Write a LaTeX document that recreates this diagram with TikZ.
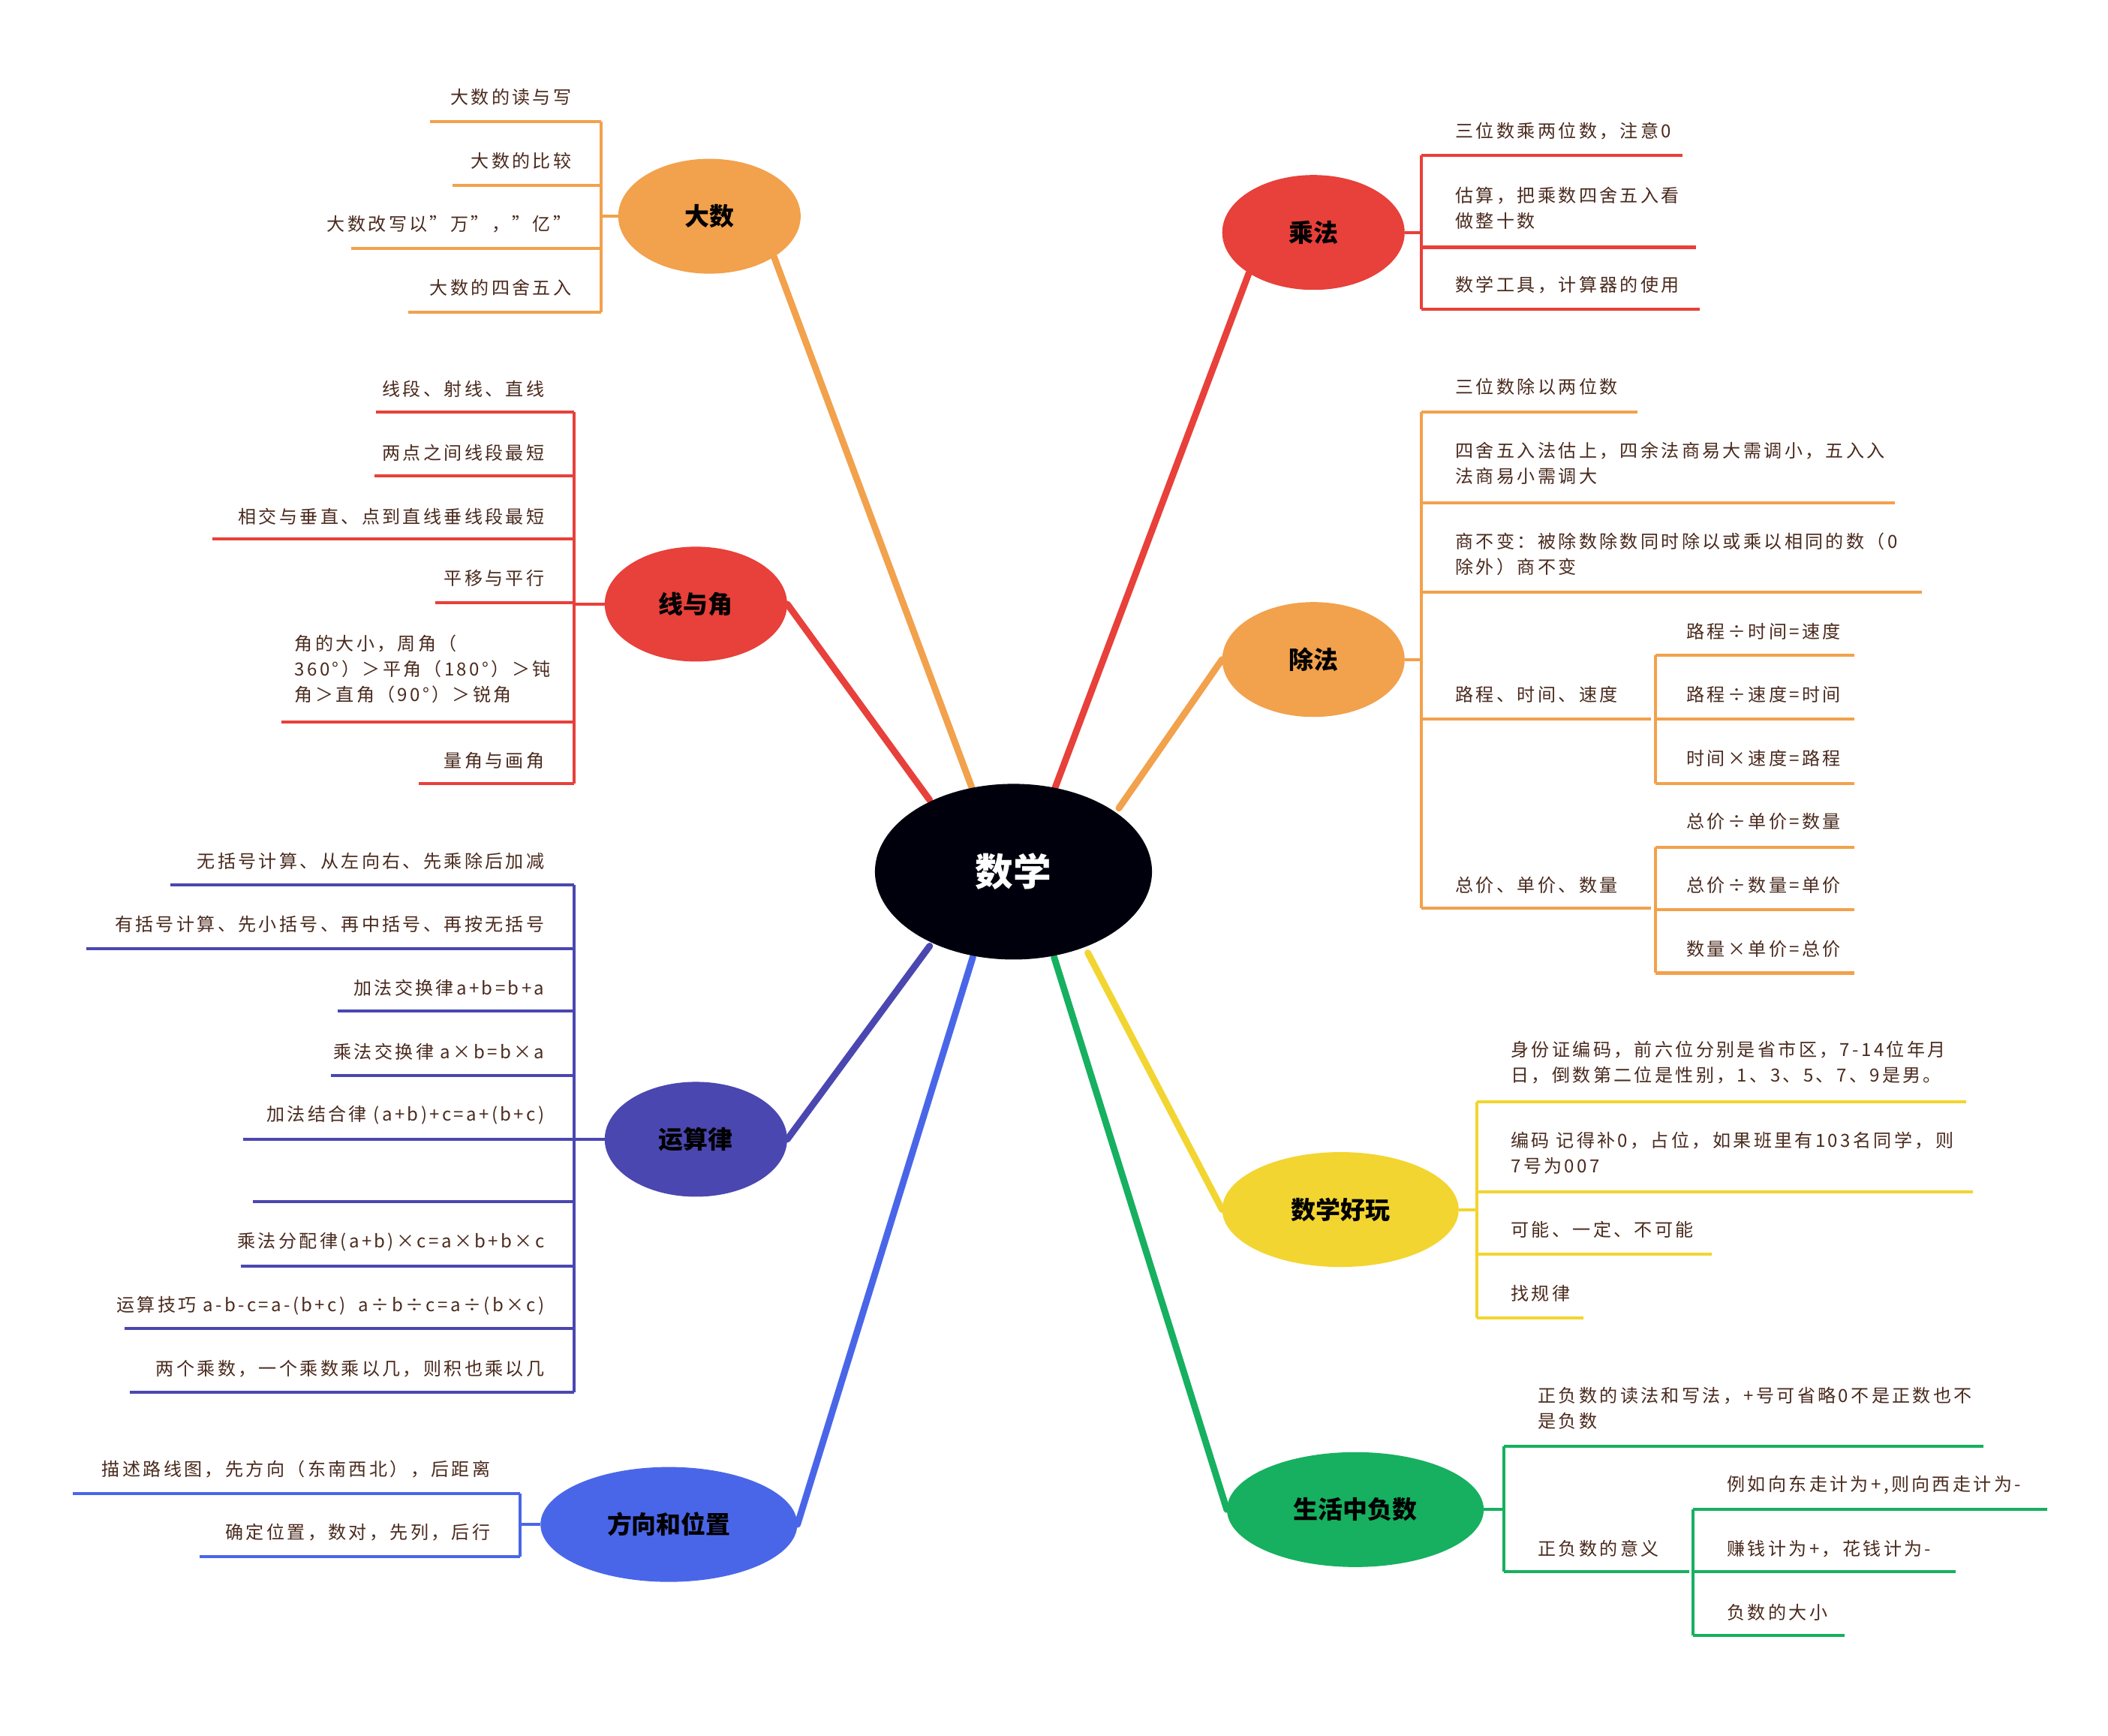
\documentclass[tikz,border=0pt]{standalone}
\usepackage{fontspec}
\setmainfont{Noto Sans CJK SC}
\usetikzlibrary{shapes.geometric}
\definecolor{cOr}{HTML}{F2A14C}
\definecolor{cRd}{HTML}{E8403A}
\definecolor{cIn}{HTML}{4B47B0}
\definecolor{cBl}{HTML}{4A66E8}
\definecolor{cYe}{HTML}{F2D530}
\definecolor{cGr}{HTML}{16B060}
\definecolor{tx}{HTML}{4A2A1E}
\tikzset{
 topic/.style={ellipse,fill=#1,minimum width=135*0.05cm,minimum height=85*0.05cm,font=\fontsize{26}{30}\selectfont\bfseries,text=black},
 mainln/.style={line width=7pt,#1,line cap=round},
 brk/.style={line width=3.2pt,#1},
 itm/.style={font=\fontsize{19}{27}\selectfont\addfontfeatures{LetterSpace=14},text=tx,align=left,inner sep=0pt},
}
% left item: color, bracketx, texty, uly, startx, name, text
\newcommand\Litem[7]{\node[itm,anchor=east,align=right] (#6) at (#2-22,#3) {#7};
 \coordinate (#6u) at (#5,#4); \draw[brk=#1] (#6u) -- (#2,#4);}
% right item: color, bracketx, textx, texty, uly, endx, name, text
\newcommand\Ritem[8]{\node[itm,anchor=west] (#7) at (#3,#4) {#8};
 \coordinate (#7u) at (#6,#5); \draw[brk=#1] (#2,#5) -- (#7u);}
\begin{document}
\begin{tikzpicture}[x=0.05cm,y=-0.05cm]
\useasboundingbox (0,0) rectangle (1560,1284);
% main connectors
\coordinate (c1) at (720,585); \coordinate (c2) at (688,592); \coordinate (c3) at (688,700);
\coordinate (c4) at (720,708); \coordinate (c5) at (780,585); \coordinate (c6) at (828,598);
\coordinate (c7) at (805,705); \coordinate (c8) at (780,708);
\node[topic=cOr] (dashu) at (525,160) {大数};
\node[topic=cRd] (xian) at (515,447) {线与角};
\node[topic=cIn] (yun) at (515,843) {运算律};
\node[topic=cBl,minimum width=190*0.05cm] (fang) at (495,1128) {方向和位置};
\node[topic=cRd] (cheng) at (972,172) {乘法};
\node[topic=cOr] (chu) at (972,488) {除法};
\node[topic=cYe,minimum width=175*0.05cm] (hao) at (992,895) {数学好玩};
\node[topic=cGr,minimum width=190*0.05cm] (fu) at (1003,1117) {生活中负数};
\draw[mainln=cOr] (c1) -- (dashu.south east);
\draw[mainln=cRd] (c2) -- (xian.east);
\draw[mainln=cIn] (c3) -- (yun.east);
\draw[mainln=cBl] (c4) -- (fang.east);
\draw[mainln=cRd] (c5) -- (cheng.south west);
\draw[mainln=cOr] (c6) -- (chu.west);
\draw[mainln=cYe] (c7) -- (hao.west);
\draw[mainln=cGr] (c8) -- (fu.west);
\node[ellipse,fill=black!95!blue,minimum width=205*0.05cm,minimum height=130*0.05cm,text=white,font=\fontsize{40}{44}\selectfont\bfseries] (root) at (750,645) {数学};
% 大数
\draw[brk=cOr] (445,90) -- (445,231); \draw[brk=cOr] (dashu.west) -- (445,160);
\Litem{cOr}{445}{72}{90}{318}{a1}{大数的读与写}
\Litem{cOr}{445}{119}{137}{335}{a2}{大数的比较}
\Litem{cOr}{445}{166}{184}{260}{a3}{大数改写以"万"，"亿"}
\Litem{cOr}{445}{213}{231}{302}{a4}{大数的四舍五入}
% 线与角
\draw[brk=cRd] (425,305) -- (425,580); \draw[brk=cRd] (xian.west) -- (425,447);
\Litem{cRd}{425}{288}{305}{278}{b1}{线段、射线、直线}
\Litem{cRd}{425}{335}{352}{277}{b2}{两点之间线段最短}
\Litem{cRd}{425}{382}{399}{157}{b3}{相交与垂直、点到直线垂线段最短}
\Litem{cRd}{425}{428}{446}{322}{b4}{平移与平行}
\node[itm,anchor=west] (b5) at (218,495) {角的大小，周角（\\360°）＞平角（180°）＞钝\\角＞直角（90°）＞锐角};
\draw[brk=cRd] (208,534) -- (425,534);
\Litem{cRd}{425}{563}{580}{310}{b6}{量角与画角}
% 运算律
\draw[brk=cIn] (425,655) -- (425,1030); \draw[brk=cIn] (yun.west) -- (425,843);
\Litem{cIn}{425}{637}{655}{126}{y1}{无括号计算、从左向右、先乘除后加减}
\Litem{cIn}{425}{684}{702}{64}{y2}{有括号计算、先小括号、再中括号、再按无括号}
\Litem{cIn}{425}{731}{748}{250}{y3}{加法交换律a+b=b+a}
\Litem{cIn}{425}{778}{796}{245}{y4}{乘法交换律 a×b=b×a}
\Litem{cIn}{425}{825}{843}{180}{y5}{加法结合律 (a+b)+c=a+(b+c)}
\coordinate (y6u) at (187,889); \draw[brk=cIn] (y6u) -- (425,889);
\Litem{cIn}{425}{919}{937}{178}{y7}{乘法分配律(a+b)×c=a×b+b×c}
\Litem{cIn}{425}{966}{983}{92}{y8}{运算技巧 a-b-c=a-(b+c)\ \ a÷b÷c=a÷(b×c)}
\Litem{cIn}{425}{1013}{1030}{96}{y9}{两个乘数，一个乘数乘以几，则积也乘以几}
% 方向和位置
\draw[brk=cBl] (385,1105) -- (385,1152); \draw[brk=cBl] (fang.west) -- (385,1128);
\Litem{cBl}{385}{1087}{1105}{54}{f1}{描述路线图，先方向（东南西北），后距离}
\Litem{cBl}{385}{1134}{1152}{148}{f2}{确定位置，数对，先列，后行}
% 乘法
\draw[brk=cRd] (1052,115) -- (1052,229); \draw[brk=cRd] (cheng.east) -- (1052,172);
\Ritem{cRd}{1052}{1077}{97}{115}{1245}{m1}{三位数乘两位数，注意0}
\Ritem{cRd}{1052}{1077}{154}{183}{1255}{m2}{估算，把乘数四舍五入看\\做整十数}
\Ritem{cRd}{1052}{1077}{211}{229}{1258}{m3}{数学工具，计算器的使用}
% 除法
\draw[brk=cOr] (1052,305) -- (1052,672); \draw[brk=cOr] (chu.east) -- (1052,488);
\Ritem{cOr}{1052}{1077}{286}{305}{1212}{d1}{三位数除以两位数}
\Ritem{cOr}{1052}{1077}{343}{372}{1402}{d2}{四舍五入法估上，四余法商易大需调小，五入入\\法商易小需调大}
\Ritem{cOr}{1052}{1077}{410}{438}{1422}{d3}{商不变：被除数除数同时除以或乘以相同的数（0\\除外）商不变}
\Ritem{cOr}{1052}{1077}{514}{532}{1222}{d4}{路程、时间、速度}
\draw[brk=cOr] (1225,485) -- (1225,580);
\Ritem{cOr}{1225}{1248}{467}{485}{1372}{d41}{路程÷时间=速度}
\Ritem{cOr}{1225}{1248}{514}{532}{1372}{d42}{路程÷速度=时间}
\Ritem{cOr}{1225}{1248}{561}{580}{1372}{d43}{时间×速度=路程}
\Ritem{cOr}{1052}{1077}{655}{672}{1222}{d5}{总价、单价、数量}
\draw[brk=cOr] (1225,627) -- (1225,720);
\Ritem{cOr}{1225}{1248}{608}{627}{1372}{d51}{总价÷单价=数量}
\Ritem{cOr}{1225}{1248}{655}{673}{1372}{d52}{总价÷数量=单价}
\Ritem{cOr}{1225}{1248}{702}{720}{1372}{d53}{数量×单价=总价}
% 数学好玩
\draw[brk=cYe] (1093,815) -- (1093,975); \draw[brk=cYe] (hao.east) -- (1093,895);
\Ritem{cYe}{1093}{1118}{786}{815}{1455}{h1}{身份证编码，前六位分别是省市区，7-14位年月\\日，倒数第二位是性别，1、3、5、7、9是男。}
\Ritem{cYe}{1093}{1118}{853}{882}{1460}{h2}{编码 记得补0，占位，如果班里有103名同学，则\\7号为007}
\Ritem{cYe}{1093}{1118}{910}{928}{1267}{h3}{可能、一定、不可能}
\Ritem{cYe}{1093}{1118}{957}{975}{1172}{h4}{找规律}
% 生活中负数
\draw[brk=cGr] (1113,1070) -- (1113,1163); \draw[brk=cGr] (fu.east) -- (1113,1117);
\Ritem{cGr}{1113}{1138}{1042}{1070}{1468}{g1}{正负数的读法和写法，+号可省略0不是正数也不\\是负数}
\Ritem{cGr}{1113}{1138}{1146}{1163}{1250}{g2}{正负数的意义}
\draw[brk=cGr] (1253,1117) -- (1253,1210);
\Ritem{cGr}{1253}{1278}{1099}{1117}{1515}{g21}{例如向东走计为+,则向西走计为-}
\Ritem{cGr}{1253}{1278}{1146}{1163}{1447}{g22}{赚钱计为+，花钱计为-}
\Ritem{cGr}{1253}{1278}{1193}{1210}{1365}{g23}{负数的大小}
\end{tikzpicture}
\end{document}
